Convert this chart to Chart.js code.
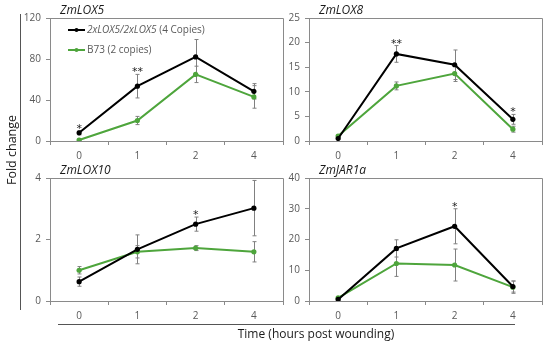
<!DOCTYPE html>
<html>
<head>
<meta charset="utf-8">
<script src="https://cdn.jsdelivr.net/npm/chart.js@4.4.1/dist/chart.umd.min.js"></script>
<style>
body { margin: 0; background: #fff; width: 550px; height: 345px; position: relative; overflow: hidden; font-family: 'Open Sans', sans-serif; }
canvas { position: absolute; }
#ytitle { position: absolute; left: -48px; top: 142px; width: 120px; line-height: 16px; text-align: center; font-size: 12.5px; color: #1a1a1a; transform: rotate(-90deg); }
#yline { position: absolute; left: 20px; top: 14px; height: 296px; border-left: 1px solid #555; }
#xline { position: absolute; left: 58px; top: 324px; width: 457px; border-top: 1px solid #555; }
#xtitle { position: absolute; left: 166px; top: 325px; width: 300px; text-align: center; font-size: 12px; color: #1a1a1a; }
</style>
</head>
<body>
<canvas id="c0" width="268" height="166" style="left:20px;top:0px"></canvas>
<canvas id="c1" width="267" height="166" style="left:280px;top:0px"></canvas>
<canvas id="c2" width="268" height="166" style="left:20px;top:160px"></canvas>
<canvas id="c3" width="267" height="166" style="left:280px;top:160px"></canvas>
<div id="yline"></div>
<div id="ytitle">Fold change</div>
<div id="xline"></div>
<div id="xtitle">Time (hours post wounding)</div>
<script>
const hours = ['0', '1', '2', '4'];
const seriesNames = ['2xLOX5/2xLOX5 (4 Copies)', 'B73 (2 copies)'];
const seriesColors = ['#000000', '#4ea53c'];

const panelTitles = ['ZmLOX5', 'ZmLOX8', 'ZmLOX10', 'ZmJAR1a'];
const yMaxes = [120, 25, 4, 40];
const ySteps = [40, 5, 2, 10];

const lox5Line = [8, 53.5, 82, 48.5];
const lox5LineErr = [2, 11.5, 17, 7.5];
const lox5B73 = [1, 20, 65, 43];
const lox5B73Err = [1, 4, 8, 11];
const lox5Stars = ['*', '**', '', ''];

const lox8Line = [0.5, 17.7, 15.5, 4.4];
const lox8LineErr = [0.2, 1.7, 3, 1];
const lox8B73 = [1.0, 11.2, 13.7, 2.4];
const lox8B73Err = [0.3, 0.8, 1.6, 0.6];
const lox8Stars = ['', '**', '', '*'];

const lox10Line = [0.63, 1.68, 2.5, 3.02];
const lox10LineErr = [0.15, 0.47, 0.23, 0.9];
const lox10B73 = [1.0, 1.6, 1.72, 1.6];
const lox10B73Err = [0.12, 0.2, 0.08, 0.33];
const lox10Stars = ['', '', '*', ''];

const jarLine = [0.5, 17.1, 24.3, 4.7];
const jarLineErr = [0.3, 2.8, 5.7, 1.8];
const jarB73 = [1.0, 12.2, 11.7, 4.5];
const jarB73Err = [0.4, 4.2, 5.2, 2];
const jarStars = ['', '', '*', ''];

const axisGrey = '#8a8a8a';
const tickGrey = '#595959';

const extras = {
    id: 'extras',
    beforeDatasetsDraw(chart, args, opts) {
        const ctx = chart.ctx;
        const a = chart.chartArea;
        const y = chart.scales.y;
        ctx.save();
        ctx.strokeStyle = axisGrey;
        ctx.lineWidth = 1;
        ctx.beginPath();
        ctx.moveTo(Math.round(a.left), Math.round(a.top) + 0.5);
        ctx.lineTo(Math.round(a.right) + 0.5, Math.round(a.top) + 0.5);
        ctx.lineTo(Math.round(a.right) + 0.5, Math.round(a.bottom));
        ctx.stroke();
        // error bars
        ctx.strokeStyle = '#808080';
        chart.data.datasets.forEach((ds, d) => {
            const meta = chart.getDatasetMeta(d);
            ds.errors.forEach((e, i) => {
                const x = Math.round(meta.data[i].x) + 0.5;
                const top = y.getPixelForValue(ds.data[i] + e);
                const bot = y.getPixelForValue(Math.max(ds.data[i] - e, 0));
                ctx.beginPath();
                ctx.moveTo(x, top); ctx.lineTo(x, bot);
                ctx.moveTo(x - 2, top); ctx.lineTo(x + 2, top);
                ctx.moveTo(x - 2, bot); ctx.lineTo(x + 2, bot);
                ctx.stroke();
            });
        });
        ctx.restore();
    },
    afterDatasetsDraw(chart, args, opts) {
        const ctx = chart.ctx;
        const a = chart.chartArea;
        const y = chart.scales.y;
        ctx.save();
        ctx.fillStyle = '#1a1a1a';
        ctx.font = 'italic 12px "Open Sans"';
        ctx.textBaseline = 'alphabetic';
        ctx.textAlign = 'left';
        ctx.fillText(opts.title, a.left + 10, a.top - 4);

        ctx.font = '11px "DejaVu Sans"';
        ctx.textAlign = 'center';
        ctx.fillStyle = '#222';
        opts.stars.forEach((s, i) => {
            if (!s) return;
            let top = a.bottom;
            chart.data.datasets.forEach((ds, d) => {
                top = Math.min(top, y.getPixelForValue(ds.data[i] + ds.errors[i]));
            });
            const x = chart.getDatasetMeta(0).data[i].x;
            ctx.fillText(s, x, top + 1);
        });

        if (opts.legend) {
            chart.data.datasets.forEach((ds, d) => {
                const ly = a.top + 12 + d * 20;
                const lx = a.left + 18;
                ctx.strokeStyle = ds.borderColor;
                ctx.lineWidth = 2;
                ctx.beginPath();
                ctx.moveTo(lx, ly); ctx.lineTo(lx + 17, ly);
                ctx.stroke();
                ctx.fillStyle = ds.borderColor;
                ctx.beginPath();
                ctx.arc(lx + 8.5, ly, 2, 0, Math.PI * 2);
                ctx.fill();
                ctx.fillStyle = tickGrey;
                ctx.textAlign = 'left';
                ctx.textBaseline = 'middle';
                let label = ds.label;
                let tx = lx + 19;
                const cut = label.indexOf(' (');
                if (d == 0 && cut > 0) {
                    ctx.font = 'italic 10px "Open Sans"';
                    ctx.fillText(label.slice(0, cut), tx, ly);
                    tx += ctx.measureText(label.slice(0, cut)).width;
                    label = label.slice(cut);
                }
                ctx.font = '10px "Open Sans"';
                ctx.fillText(label, tx, ly);
            });
        }
        ctx.restore();
    }
};

function build_panel(n, lineVals, lineErr, b73Vals, b73Err, stars) {
    const yWidth = (n % 2 == 0) ? 30 : 29;
    const datasets = [[lineVals, lineErr], [b73Vals, b73Err]].map((s, k) => ({
        label: seriesNames[k],
        data: s[0],
        errors: s[1],
        order: k,
        borderColor: seriesColors[k],
        backgroundColor: seriesColors[k],
        borderWidth: 2,
        pointRadius: 2.6,
        pointBorderWidth: 0,
        pointHoverRadius: 2.6,
        tension: 0
    }));
    return new Chart(document.getElementById('c' + n), {
        type: 'line',
        data: { labels: hours, datasets: datasets },
        plugins: [extras],
        options: {
            responsive: false,
            animation: false,
            layout: { padding: { top: 18, right: 5, left: 0, bottom: 0 } },
            plugins: {
                legend: { display: false },
                tooltip: { enabled: false },
                extras: { title: panelTitles[n], stars: stars, legend: n == 0 }
            },
            scales: {
                x: {
                    offset: true,
                    grid: { display: true, drawOnChartArea: false, offset: true, tickLength: 4, color: axisGrey },
                    border: { display: true, color: axisGrey },
                    ticks: { color: tickGrey, padding: 5, font: { family: 'Open Sans', size: 10 } },
                    afterFit(s) { s.height = 25; }
                },
                y: {
                    min: 0,
                    max: yMaxes[n],
                    grid: { display: true, drawOnChartArea: false, tickLength: 4, color: axisGrey },
                    border: { display: true, color: axisGrey },
                    ticks: { stepSize: ySteps[n], color: tickGrey, padding: 5, font: { family: 'Open Sans', size: 10 } },
                    afterFit(s) { s.width = yWidth; }
                }
            }
        }
    });
}

build_panel(0, lox5Line, lox5LineErr, lox5B73, lox5B73Err, lox5Stars);
build_panel(1, lox8Line, lox8LineErr, lox8B73, lox8B73Err, lox8Stars);
build_panel(2, lox10Line, lox10LineErr, lox10B73, lox10B73Err, lox10Stars);
build_panel(3, jarLine, jarLineErr, jarB73, jarB73Err, jarStars);
</script>
</body>
</html>
